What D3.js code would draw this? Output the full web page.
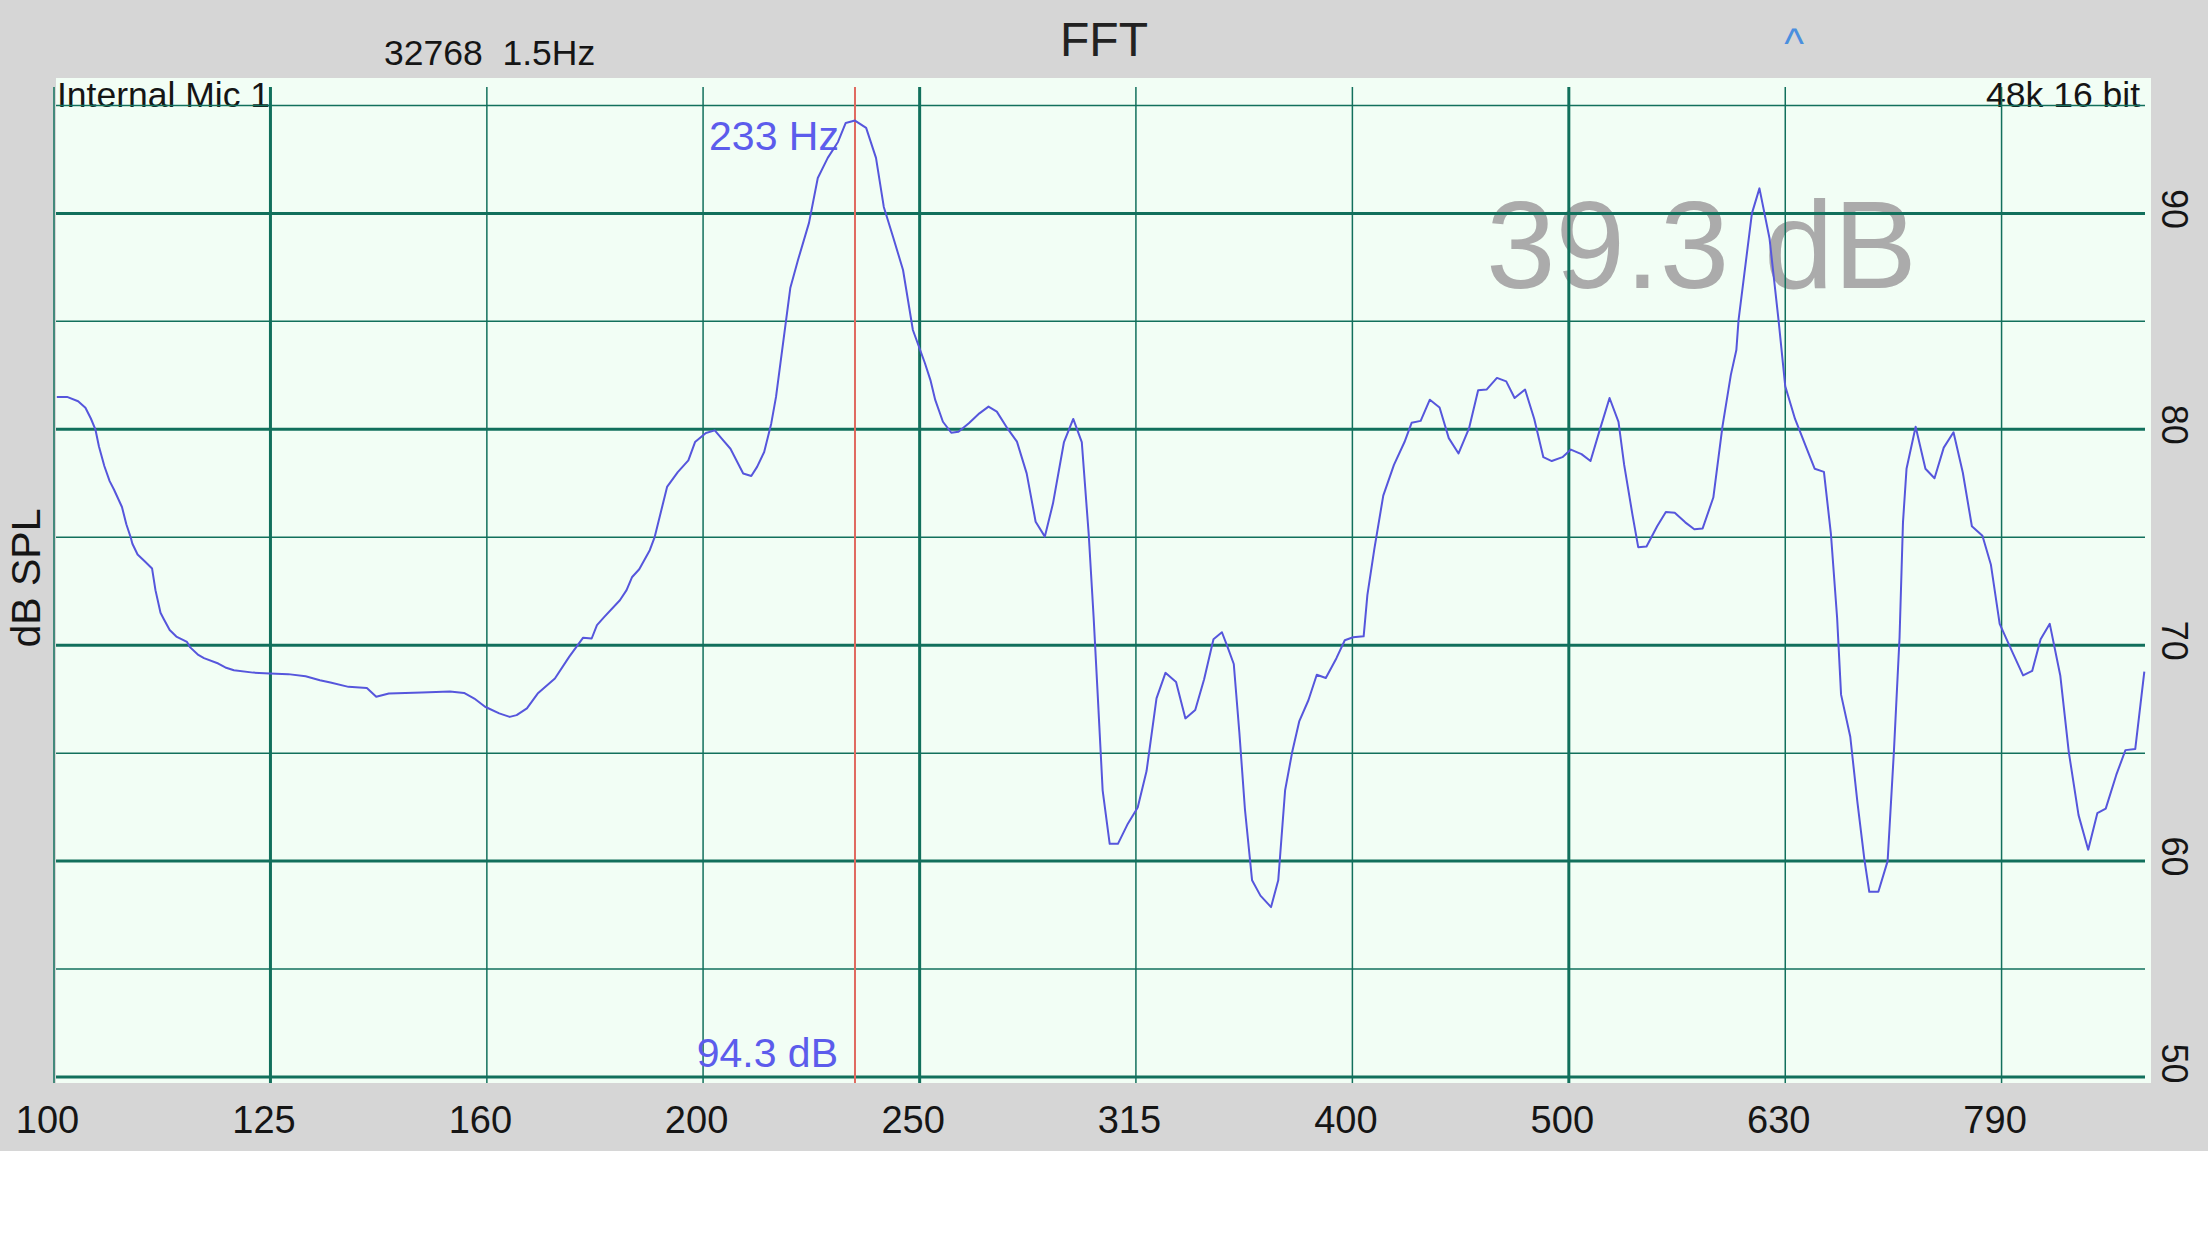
<!DOCTYPE html>
<html><head><meta charset="utf-8">
<script src="https://cdn.jsdelivr.net/npm/d3@7"></script>
<style>
html,body{margin:0;padding:0;background:#fff;}
svg{display:block;}
text{font-family:"Liberation Sans",Arial,Helvetica,sans-serif;}
</style></head><body>
<svg id="c" width="2208" height="1242"></svg>
<script>
// ---- data ----
const freqs = [100.3,101.4,102.6,103.4,104.0,104.5,104.9,105.5,106.1,106.6,107.5,108.0,108.5,108.7,109.3,110.1,111.0,111.4,112.0,112.4,113.1,113.9,115.2,115.6,116.6,117.3,119.1,120.0,121.1,123.6,125.8,128.3,130.7,132.7,134.2,136.8,139.5,140.9,142.8,147.9,152.4,154.7,156.4,158.2,160.6,162.4,163.6,165.4,167.3,170.4,173.0,175.6,177.2,178.2,179.6,182.6,183.9,185.0,186.4,188.5,189.5,192.0,194.2,196.4,197.8,200.1,202.0,203.5,205.4,208.2,210.0,211.3,212.9,214.5,215.6,218.9,220.7,223.3,225.4,227.8,230.3,232.2,234.5,237.3,239.8,241.8,244.2,246.8,249.4,252.6,254.1,255.4,257.5,259.8,261.8,264.7,267.7,270.3,272.7,275.8,278.6,281.5,284.2,287.0,289.5,292.9,295.8,298.5,300.7,302.3,303.6,305.2,307.5,310.2,313.3,316.8,319.8,323.2,326.3,330.0,333.3,336.8,340.0,343.4,346.5,348.3,350.9,353.0,355.1,357.8,361.0,365.1,367.9,370.6,373.4,376.2,379.9,383.3,387.0,391.4,394.9,398.4,402.9,404.5,407.5,411.4,416.1,420.8,424.0,428.1,432.3,436.8,441.1,445.7,450.7,455.1,459.2,464.3,468.9,473.1,478.4,483.1,487.8,492.2,497.8,502.3,508.0,512.9,517.9,523.4,528.4,531.6,536.3,539.6,544.4,550.6,555.7,561.0,567.3,572.8,577.9,584.5,590.2,595.5,599.0,600.4,609.0,613.9,620.5,626.5,631.0,637.6,645.3,651.1,657.5,662.4,666.8,669.6,676.2,681.3,686.4,690.0,696.7,703.6,708.3,712.6,715.2,717.9,724.9,732.5,739.6,746.9,754.7,762.2,769.6,778.3,785.3,792.7,803.7,812.7,820.6,828.0,836.1,845.5,853.2,862.1,871.0,879.5,887.4,897.4,906.2,915.7,924.6];
const levels = [81.5,81.5,81.3,81.0,80.5,80.0,79.2,78.3,77.6,77.2,76.4,75.6,75.0,74.7,74.2,73.9,73.55,72.55,71.5,71.2,70.7,70.4,70.15,69.9,69.55,69.4,69.15,68.97,68.84,68.73,68.69,68.66,68.56,68.38,68.27,68.07,68.02,67.61,67.76,67.81,67.85,67.79,67.53,67.15,66.84,66.68,66.76,67.07,67.76,68.46,69.46,70.35,70.31,70.93,71.31,72.08,72.55,73.16,73.52,74.40,75.02,77.33,78.02,78.56,79.41,79.83,79.95,79.57,79.10,77.95,77.84,78.26,78.95,80.26,81.50,86.54,87.84,89.56,91.64,92.57,93.31,94.19,94.3,93.96,92.57,90.30,88.91,87.38,84.60,83.07,82.28,81.36,80.35,79.84,79.89,80.28,80.74,81.05,80.82,80.04,79.43,77.96,75.72,75.03,76.57,79.41,80.48,79.41,75.16,71.26,67.71,63.28,60.80,60.80,61.68,62.48,64.17,67.54,68.72,68.30,66.61,67.00,68.42,70.28,70.60,70.02,69.13,65.94,62.39,59.11,58.40,57.87,59.11,63.28,65.05,66.47,67.45,68.63,68.48,69.40,70.23,70.37,70.41,72.32,74.45,76.93,78.35,79.41,80.30,80.39,81.37,81.01,79.59,78.88,80.04,81.81,81.84,82.38,82.22,81.45,81.84,80.48,78.71,78.53,78.71,79.06,78.85,78.53,79.95,81.45,80.34,78.35,76.05,74.54,74.57,75.51,76.17,76.13,75.69,75.37,75.41,76.84,80.12,82.52,83.67,85.06,90.0,91.16,88.85,85.06,81.99,80.48,79.15,78.17,78.03,75.16,71.26,67.71,65.76,62.75,60.09,58.58,58.58,60.0,65.05,70.37,75.69,78.17,80.12,78.17,77.73,79.15,79.86,78.0,75.51,75.07,73.74,70.99,69.66,68.60,68.81,70.28,70.99,68.60,65.05,62.13,60.53,62.22,62.43,63.99,65.14,65.19,68.78];
const xTickFreqs = [100,125.9,158.5,199.5,251.2,316.2,398.1,501.2,631.0,794.3];
const xTickLabels = ["100","125","160","200","250","315","400","500","630","790"];
const xMajorFreqs = [125.9,251.2,501.2];
const yGridValues = [50,55,60,65,70,75,80,85,90,95];
const yMajorValues = [50,60,70,80,90];
const yTickValues = [50,60,70,80,90];
const cursorFreq = 234.5;
const cursorFreqLabel = "233 Hz";
const cursorLevelLabel = "94.3 dB";
const overallLabel = "39.3 dB";
const titleText = "FFT";
const fftInfo = "32768  1.5Hz";
const inputLabel = "Internal Mic 1";
const formatLabel = "48k 16 bit";
const yAxisTitle = "dB SPL";

// ---- layout ----
const svg = d3.select("#c");
const plot = {l:56, r:2151, t:78, b:1083};
const gridTop = 87, gridRight = 2145;
const x = d3.scaleLog().domain([100,1000]).range([54, 2218]);
const y = d3.scaleLinear().domain([50,90]).range([1077, 213.4]);
const gridColor = "#12705c";
const ink = "#151515";

svg.append("rect").attr("x",0).attr("y",0).attr("width",2208).attr("height",1151).attr("fill","#d6d6d6");
svg.append("rect").attr("x",plot.l).attr("y",plot.t).attr("width",plot.r-plot.l).attr("height",plot.b-plot.t).attr("fill","#f2fef5");

// header texts
svg.append("text").attr("x",1104).attr("y",56).attr("text-anchor","middle").attr("font-size",48).attr("fill","#222").text(titleText);
svg.append("text").attr("x",384).attr("y",65).attr("font-size",35.5).attr("fill",ink).style("white-space","pre").text(fftInfo);
svg.append("text").attr("x",1794).attr("y",58).attr("text-anchor","middle").attr("font-size",42).attr("fill","#4a8fdf").text("^");

// background labels inside plot
svg.append("text").attr("x",1486).attr("y",288).attr("font-size",125).attr("fill","#ababab").text(overallLabel);
svg.append("text").attr("x",57).attr("y",107).attr("font-size",35.5).attr("fill",ink).text(inputLabel);
svg.append("text").attr("x",2140).attr("y",107).attr("text-anchor","end").attr("font-size",35.5).attr("fill",ink).text(formatLabel);

// grid
const g = svg.append("g");
g.selectAll("line.h").data(yGridValues).join("line")
  .attr("x1",plot.l).attr("x2",gridRight)
  .attr("y1",d=>y(d)).attr("y2",d=>y(d))
  .attr("stroke",gridColor)
  .attr("stroke-width",d=>yMajorValues.includes(d)?3:1.5);
g.selectAll("line.v").data(xTickFreqs).join("line")
  .attr("x1",d=>x(d)).attr("x2",d=>x(d))
  .attr("y1",gridTop).attr("y2",plot.b)
  .attr("stroke",gridColor)
  .attr("stroke-width",d=>xMajorFreqs.includes(d)?3:1.5);

// cursor
svg.append("line").attr("x1",x(cursorFreq)).attr("x2",x(cursorFreq)).attr("y1",gridTop).attr("y2",plot.b)
  .attr("stroke","#e06a60").attr("stroke-width",2);
svg.append("text").attr("x",x(cursorFreq)-16).attr("y",150).attr("text-anchor","end").attr("font-size",41).attr("fill","#5c5cec").text(cursorFreqLabel);
svg.append("text").attr("x",x(cursorFreq)-17).attr("y",1067).attr("text-anchor","end").attr("font-size",41).attr("fill","#5c5cec").text(cursorLevelLabel);

// curve
const pts = freqs.map((f,i)=>({f, v:levels[i]}));
const line = d3.line().x(d=>x(d.f)).y(d=>y(d.v));
svg.append("path").datum(pts).attr("d",line).attr("fill","none").attr("stroke","#5656dc").attr("stroke-width",2).attr("stroke-linejoin","round");

// x axis labels
const xAxis = d3.axisBottom(x).tickValues(xTickFreqs).tickFormat((d,i)=>xTickLabels[i]).tickSize(0);
const xa = svg.append("g").attr("transform","translate(0,1133)").call(xAxis);
xa.select(".domain").remove();
xa.selectAll("text").attr("y",0).attr("dy",0).attr("dx",-7)
  .attr("font-size",38).attr("fill",ink).attr("font-family",null);

// y axis labels (right, rotated)
const yAxis = d3.axisRight(y).tickValues(yTickValues).tickFormat(d3.format("d")).tickSize(0);
const ya = svg.append("g").call(yAxis);
ya.select(".domain").remove();
ya.selectAll("text").attr("x",0).attr("dy",0).attr("text-anchor","middle")
  .attr("transform",d=>`translate(2162,${Math.min(y(d)-5,1063)-y(d)}) rotate(90)`)
  .attr("font-size",36).attr("fill",ink).attr("font-family",null);

// y axis title
svg.append("text").attr("transform","translate(40,578) rotate(-90)").attr("text-anchor","middle")
  .attr("font-size",41).attr("fill",ink).text(yAxisTitle);
</script>
</body></html>
